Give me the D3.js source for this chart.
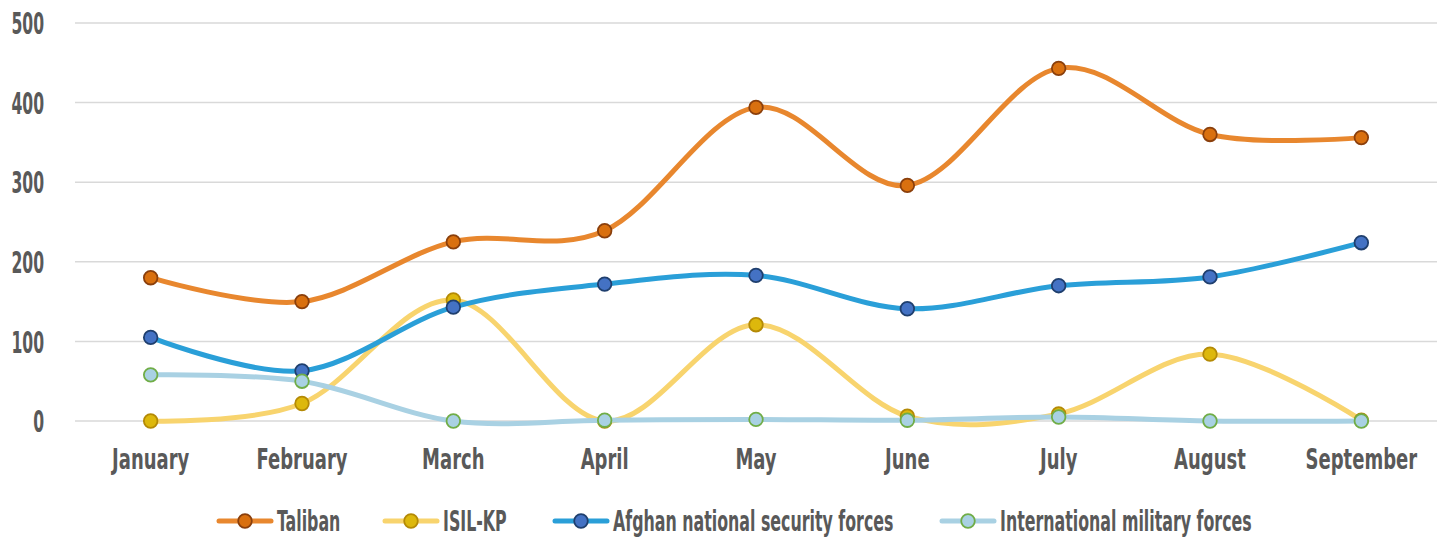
<!DOCTYPE html>
<html>
<head>
<meta charset="utf-8">
<script src="https://cdn.jsdelivr.net/npm/d3@7"></script>
<style>
  body { margin: 0; background: #fff; }
  text { font-family: "DejaVu Sans Condensed", "Liberation Sans Narrow", sans-serif; font-weight: bold; fill: #595959; }
</style>
</head>
<body>
<svg id="chart" width="1442" height="538"></svg>
<script>
// Months on the x axis
const months = ["January", "February", "March", "April", "May", "June", "July", "August", "September"];
// Values per series
const taliban = [180, 150, 225, 239, 394, 296, 443, 360, 356];
const isilkp = [0, 22, 152, 0, 121, 6, 9, 84, 1];
const ansf = [105, 63, 143, 172, 183, 141, 170, 181, 224];
const imf = [58, 50, 0, 1, 2, 1, 5, 0, 0];
const yTicks = [0, 100, 200, 300, 400, 500];

const series = [
  { name: "Taliban", values: taliban, line: "#E8872E", fill: "#D9700F", stroke: "#8A3F0C" },
  { name: "ISIL-KP", values: isilkp, line: "#F8D46E", fill: "#DDB80C", stroke: "#B48A06" },
  { name: "Afghan national security forces", values: ansf, line: "#2A9FD8", fill: "#4472C4", stroke: "#1F3F6E" },
  { name: "International military forces", values: imf, line: "#A9D1E3", fill: "#A9D1E3", stroke: "#70AD47" }
];

const svg = d3.select("#chart");
const plotLeft = 75, plotRight = 1437, plotTop = 23, plotBottom = 421;

const x = d3.scaleBand().domain(months).range([plotLeft, plotRight]);
const y = d3.scaleLinear().domain([0, 500]).range([plotBottom, plotTop]);
const cx = (d, i) => x(months[i]) + x.bandwidth() / 2;

// gridlines
svg.append("g").selectAll("line")
  .data(yTicks)
  .join("line")
  .attr("x1", plotLeft).attr("x2", plotRight)
  .attr("y1", d => y(d)).attr("y2", d => y(d))
  .attr("stroke", "#d9d9d9").attr("stroke-width", 1.5);

// y labels (squeezed horizontally to mimic a condensed face)
svg.append("g").selectAll("text")
  .data(yTicks)
  .join("text")
  .attr("transform", d => `translate(44,${y(d)}) scale(0.56,1)`)
  .attr("dy", "0.36em")
  .attr("text-anchor", "end")
  .attr("font-size", 31)
  .text(d => d);

// x labels
svg.append("g").selectAll("text")
  .data(months)
  .join("text")
  .attr("transform", d => `translate(${x(d) + x.bandwidth() / 2},469) scale(0.69,1)`)
  .attr("text-anchor", "middle")
  .attr("font-size", 29)
  .text(d => d);

const line = d3.line()
  .x(cx)
  .y(d => y(d))
  .curve(d3.curveCatmullRom.alpha(0));

// draw series in order
series.forEach(s => {
  svg.append("path")
    .attr("d", line(s.values))
    .attr("fill", "none")
    .attr("stroke", s.line)
    .attr("stroke-width", 5)
    .attr("stroke-linecap", "round");
  svg.append("g").selectAll("circle")
    .data(s.values)
    .join("circle")
    .attr("cx", cx)
    .attr("cy", d => y(d))
    .attr("r", 6.8)
    .attr("fill", s.fill)
    .attr("stroke", s.stroke)
    .attr("stroke-width", 1.8);
});

// legend
const legendX = [217, 383, 553, 940];
const legend = svg.append("g");
series.forEach((s, i) => {
  const g = legend.append("g").attr("transform", `translate(${legendX[i]},521)`);
  g.append("line").attr("x1", 2).attr("x2", 54).attr("y1", 0).attr("y2", 0)
    .attr("stroke", s.line).attr("stroke-width", 5).attr("stroke-linecap", "round");
  g.append("circle").attr("cx", 28).attr("cy", 0).attr("r", 6.8)
    .attr("fill", s.fill).attr("stroke", s.stroke).attr("stroke-width", 1.8);
  g.append("text").attr("transform", "translate(60,0) scale(0.64,1)").attr("dy", "0.36em")
    .attr("font-size", 27.5).text(s.name);
});
</script>
</body>
</html>
